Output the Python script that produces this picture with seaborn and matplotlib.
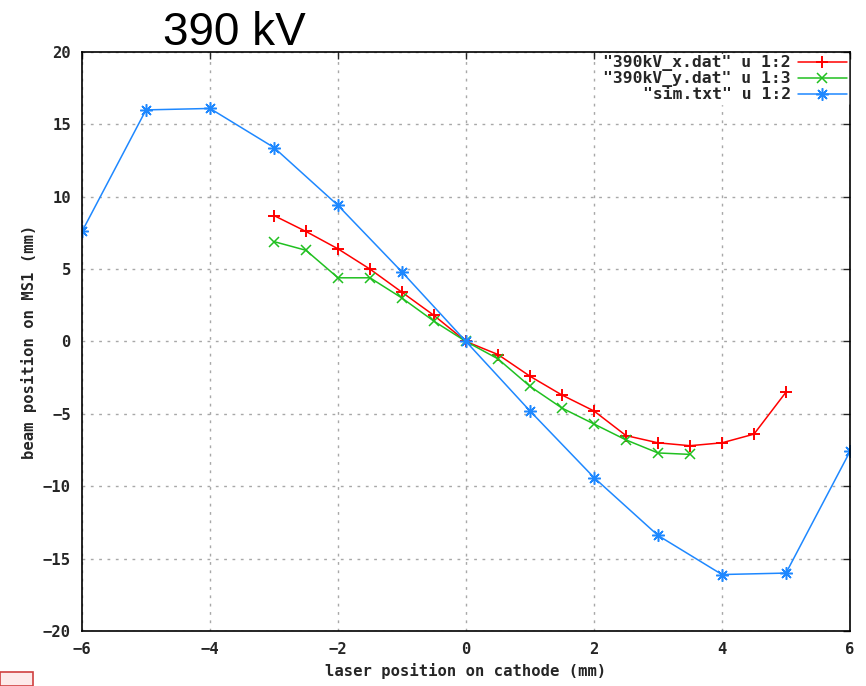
import numpy as np
import pandas as pd
import matplotlib.pyplot as plt
import matplotlib.patches as mpatches
import seaborn as sns

# measured beam position vs laser position, 390 kV
x_meas = [-3, -2.5, -2, -1.5, -1, -0.5, 0, 0.5, 1, 1.5, 2, 2.5, 3, 3.5, 4, 4.5, 5]
y_x = [8.7, 7.6, 6.4, 5.0, 3.4, 1.8, 0.0, -0.9, -2.4, -3.7, -4.8, -6.5, -7.0, -7.2, -7.0, -6.4, -3.5]

x_meas_y = [-3, -2.5, -2, -1.5, -1, -0.5, 0, 0.5, 1, 1.5, 2, 2.5, 3, 3.5]
y_y = [6.9, 6.3, 4.4, 4.4, 3.0, 1.4, 0.0, -1.2, -3.1, -4.6, -5.7, -6.8, -7.7, -7.8]

x_sim = [-6, -5, -4, -3, -2, -1, 0, 1, 2, 3, 4, 5, 6]
y_sim = [7.6, 16.0, 16.1, 13.4, 9.4, 4.8, 0.0, -4.8, -9.4, -13.4, -16.1, -16.0, -7.6]

labels = ['"390kV_x.dat" u 1:2', '"390kV_y.dat" u 1:3', '"sim.txt" u 1:2']
colors = ['#ff0000', '#20c020', '#1e88ff']

sns.set_style("white")
mono = {'family': 'DejaVu Sans Mono', 'weight': 'bold', 'size': 11.2}
mono_leg = {'family': 'DejaVu Sans Mono', 'weight': 'bold', 'size': 11.8}

fig = plt.figure(figsize=(8.66, 6.86), dpi=100)
ax = fig.add_axes([0.0947, 0.0802, 0.8868, 0.8440])

df_x = pd.DataFrame({'x': x_meas, 'y': y_x})
df_y = pd.DataFrame({'x': x_meas_y, 'y': y_y})
df_s = pd.DataFrame({'x': x_sim, 'y': y_sim})

sns.lineplot(data=df_x, x='x', y='y', ax=ax, color=colors[0], marker='+', markersize=9,
             markeredgecolor=colors[0], markeredgewidth=1.4, linewidth=1.1, sort=False,
             label=labels[0])
sns.lineplot(data=df_y, x='x', y='y', ax=ax, color=colors[1], marker='x', markersize=7,
             markeredgecolor=colors[1], markeredgewidth=1.1, linewidth=1.1, sort=False,
             label=labels[1])
sns.lineplot(data=df_s, x='x', y='y', ax=ax, color=colors[2], marker=(8, 2, 0), markersize=9,
             markeredgecolor=colors[2], markeredgewidth=1.1, linewidth=1.1, sort=False,
             label=labels[2])

ax.set_xlim(-6, 6)
ax.set_ylim(-20, 20)
ax.set_xticks(np.arange(-6, 7, 2))
ax.set_yticks(np.arange(-20, 21, 5))
ax.grid(True, color='#a8a8a8', linestyle=(0, (2, 4)), linewidth=1.0)
ax.tick_params(direction='in', length=5, width=1, top=True, right=True, pad=8)
for lab in ax.get_xticklabels() + ax.get_yticklabels():
    lab.set_fontproperties(mono)
for sp in ax.spines.values():
    sp.set_color('black')
    sp.set_linewidth(1.2)

ax.set_xlabel('laser position on cathode (mm)', fontdict=mono, labelpad=4)
ax.set_ylabel('beam position on MS1 (mm)', fontdict=mono, labelpad=4)

leg = ax.legend(loc='upper right', prop=mono_leg, frameon=True, markerfirst=False,
                handlelength=3.0, handletextpad=0.4, borderpad=0.1, labelspacing=0.0,
                borderaxespad=0.1, fancybox=False)
leg.get_frame().set_edgecolor('white')
leg.get_frame().set_alpha(1)
for t in leg.get_texts():
    t.set_ha('right')
leg._legend_box.align = 'right'

fig.text(0.188, 0.935, '390 kV', fontsize=33, family='Liberation Sans', color='black')

fig.patches.append(mpatches.Rectangle((0, 0), 0.038, 0.02, transform=fig.transFigure,
                                      facecolor='#fdeaea', edgecolor='#d04040', linewidth=1.2))

fig.savefig('out.png', dpi=100)
